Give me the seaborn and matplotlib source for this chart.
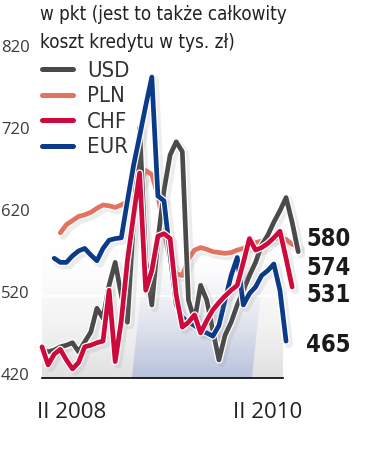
import numpy as np
import pandas as pd
import matplotlib
matplotlib.use('Agg')
import matplotlib.pyplot as plt
import matplotlib.patheffects as pe
import matplotlib.transforms as mtransforms
from matplotlib import font_manager as fm
from matplotlib.colors import LinearSegmentedColormap
from matplotlib.patches import Polygon
from matplotlib.lines import Line2D
import seaborn as sns

nan = np.nan

# punkty pomiarowe (indeks), II 2008 ... II 2010
usd = [454, 452, 454, 458, 460, 463, 452, 464, 476, 505, 493, 533, 561, 521, 488,
       612, 725, 563, 509, 588, 649, 692, 708, 696, 515, 490, 533, 515, 478, 442,
       472, 488, 509, 527, 545, 561, 582, 594, 610, 624, 640, 610, 574]
pln = [nan, nan, nan, 597, 607, 612, 617, 619, 622, 627, 631, 630, 628, 631, 635,
       641, 653, 673, 668, 643, 600, 562, 547, 545, 565, 576, 579, 577, 574, 573,
       572, 573, 576, 578, 582, 585, 587, 588, 590, 591, 589, 583, 580]
chf = [458, 436, 449, 455, 442, 431, 439, 458, 460, 463, 465, 527, 440, 490, 563,
       618, 670, 527, 551, 593, 596, 590, 521, 482, 488, 497, 475, 490, 503, 512,
       520, 527, 533, 561, 590, 576, 579, 584, 591, 599, 566, 531, nan]
eur = [nan, nan, 566, 561, 561, 569, 575, 578, 570, 563, 578, 588, 590, 591, 636,
       679, 715, 752, 787, 642, 636, 570, 509, 494, 488, 484, 478, 475, 471, 484,
       515, 545, 567, 509, 523, 531, 545, 551, 559, 527, 465, nan, nan]

series_names = ['USD', 'PLN', 'CHF', 'EUR']
colors = {'USD': '#4a4a4a', 'PLN': '#e2735f', 'CHF': '#cc0a3c', 'EUR': '#0a3a88'}
end_labels = ['580', '574', '531', '465']   # PLN, USD, CHF, EUR
yticks = [420, 520, 620, 720, 820]
xtick_pos = [4.9, 36.9]
xtick_labels = ['II 2008', 'II 2010']

df = pd.DataFrame({'USD': usd, 'PLN': pln, 'CHF': chf, 'EUR': eur})
df['t'] = np.arange(len(df))
long = df.melt(id_vars='t', var_name='waluta', value_name='pkt').dropna()

sns.set_style('white')
plain = ['Open Sans', 'DejaVu Sans']

# waski krój, jesli jest
cond_path = fm.findfont(fm.FontProperties(family='DejaVu Sans', stretch='condensed'))
has_cond = 'Condensed' in cond_path
narrow = dict(family=['DejaVu Sans'], stretch='condensed')
if has_cond:
    s_title, s_leg, s_end = 13.5, 15.8, 17
else:
    s_title, s_leg, s_end = 12.5, 14, 15.5

fig = plt.figure(figsize=(3.87, 4.54), dpi=100)
ax = fig.add_axes([42 / 387, (454 - 378) / 454, 241 / 387, 338 / 454])

# tlo: szary pas i niebieski "cien"
trans = mtransforms.blended_transform_factory(ax.transAxes, ax.transData)
grad = np.linspace(0, 1, 256).reshape(-1, 1)
cm_gray = LinearSegmentedColormap.from_list('g', [(0.88, 0.88, 0.88, 1), (1, 1, 1, 0)])
cm_blue = LinearSegmentedColormap.from_list('b', [(0.72, 0.76, 0.87, 1), (0.93, 0.94, 0.97, 0)])
im1 = ax.imshow(grad, extent=(0, 1, 420, 600), origin='lower', aspect='auto',
                cmap=cm_gray, transform=trans, zorder=0.1)
im2 = ax.imshow(grad, extent=(0, 1, 420, 560), origin='lower', aspect='auto',
                cmap=cm_blue, transform=trans, zorder=0.2)
poly = Polygon([(0.373, 420), (0.871, 420), (0.917, 548), (0.419, 548)],
               closed=True, transform=trans, facecolor='none', edgecolor='none')
ax.add_patch(poly)
im2.set_clip_path(poly)

for v in yticks[1:]:
    ax.axhline(v, color='white', lw=1.3, zorder=0.5)

sns.lineplot(data=long, x='t', y='pkt', hue='waluta',
             hue_order=['PLN', 'USD', 'EUR', 'CHF'], palette=colors,
             estimator=None, errorbar=None, sort=False, legend=False, ax=ax)

for line in ax.lines:
    if line.get_color() == 'white':
        continue
    line.set_linewidth(3.4)
    line.set_solid_joinstyle('round')
    line.set_solid_capstyle('round')
    line.set_clip_on(False)
    line.set_zorder(3)
    line.set_path_effects([
        pe.SimpleLineShadow(offset=(2, -2), shadow_color='#888888', alpha=0.15,
                            linewidth=6),
        pe.Stroke(linewidth=5.2, foreground='white'),
        pe.Normal()])

ax.set_xlim(0, 39.5)
ax.set_ylim(420, 420 + 338 / 0.82)

# osie
for s in ['top', 'right', 'left']:
    ax.spines[s].set_visible(False)
ax.spines['bottom'].set_color('black')
ax.spines['bottom'].set_linewidth(1.2)
ax.spines['bottom'].set_zorder(4)

ax.set_yticks(yticks)
ax.set_yticklabels([str(v) for v in yticks])
ax.set_xticks(xtick_pos)
ax.set_xticklabels(xtick_labels)
ax.tick_params(axis='both', length=0)
ax.tick_params(axis='y', pad=9, labelsize=12, labelcolor='#3a3a3a')
ax.tick_params(axis='x', pad=17, labelsize=16, labelcolor='#222222')
for lab in ax.get_yticklabels() + ax.get_xticklabels():
    lab.set_family(plain)
offset = mtransforms.ScaledTranslation(0, 4 / 100, fig.dpi_scale_trans)
for lab in ax.get_yticklabels():
    lab.set_transform(lab.get_transform() + offset)
ax.set_xlabel('')
ax.set_ylabel('')

# wartosci koncowe
last = {'PLN': pln[42], 'USD': usd[42], 'CHF': chf[41], 'EUR': eur[40]}
nudge = [10, -20, -10, -5]
for name, txt, dy in zip(['PLN', 'USD', 'CHF', 'EUR'], end_labels, nudge):
    ax.text(43.3, last[name] + dy, txt, ha='left', va='center', fontsize=s_end,
            fontweight='bold', color='#1a1a1a', clip_on=False, **narrow)

# legenda
handles = [Line2D([], [], color=colors[n], lw=3.6, solid_capstyle='round')
           for n in series_names]
leg = ax.legend(handles, series_names, loc='upper left',
                bbox_to_anchor=(42 / 387, 1 - 61 / 454), bbox_transform=fig.transFigure,
                frameon=False, handlelength=1.42, handletextpad=0.62,
                labelspacing=0.25, borderpad=0, borderaxespad=0,
                prop=fm.FontProperties(size=s_leg, **narrow))
for t in leg.get_texts():
    t.set_color('#333333')

# tytul
fig.text(40 / 387, 1 - 20 / 454, 'w pkt (jest to także całkowity', va='baseline',
         ha='left', fontsize=s_title, color='#222222', **narrow)
fig.text(40 / 387, 1 - 48 / 454, 'koszt kredytu w tys. zł)', va='baseline',
         ha='left', fontsize=s_title, color='#222222', **narrow)

fig.savefig('out.png', dpi=100)
